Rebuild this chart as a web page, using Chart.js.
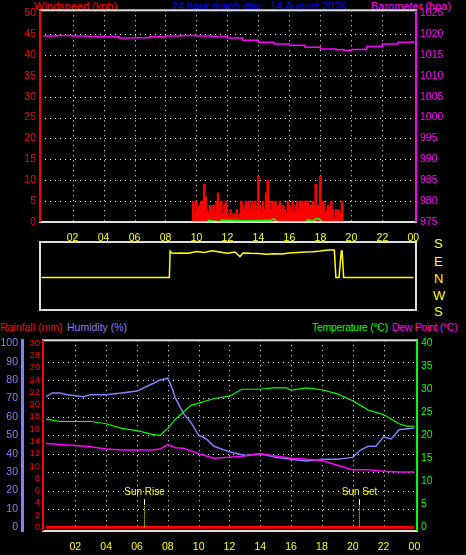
<!DOCTYPE html>
<html><head><meta charset="utf-8">
<script src="https://cdn.jsdelivr.net/npm/chart.js@4"></script>
<style>
body{margin:0;background:#000;width:466px;height:555px;overflow:hidden;position:relative;font-family:"Liberation Sans",Arial,sans-serif;font-size:11px}
canvas{position:absolute;left:0}
.t{position:absolute;white-space:nowrap;line-height:12px}
</style></head><body>
<div class="t" style="left:34px;top:0;color:#ff0000">Windspeed (kph)</div>
<div class="t" style="left:172px;top:0;color:#0000ff">24 hour graph day : 14 August 2026</div>
<div class="t" style="left:371px;top:0;color:#ff00ff">Barometer (hpa)</div>
<div class="t" style="left:0;top:321px;color:#ff0000;font-size:10.5px">Rainfall (mm)</div>
<div class="t" style="left:67px;top:321px;color:#8080ff;font-size:10.5px">Humidity (%)</div>
<div class="t" style="left:312px;top:321px;color:#00ff00;font-size:10.5px;letter-spacing:-0.3px">Temperature (°C)</div>
<div class="t" style="left:392px;top:321px;color:#ff00ff;font-size:10.5px;letter-spacing:-0.3px">Dew Point (°C)</div>
<div class="t" style="left:434px;top:238px;color:#ffff00;font-size:13px">S</div>
<div class="t" style="left:434px;top:256px;color:#ffff00;font-size:13px">E</div>
<div class="t" style="left:434px;top:273px;color:#ffff00;font-size:13px">N</div>
<div class="t" style="left:433px;top:290px;color:#ffff00;font-size:13px">W</div>
<div class="t" style="left:434px;top:306px;color:#ffff00;font-size:13px">S</div>
<canvas id="c1" style="top:0" width="466" height="241"></canvas>
<canvas id="c2" style="top:241px" width="466" height="70"></canvas>
<canvas id="c3" style="top:330px" width="466" height="225"></canvas>
<script>
const hourTicks=[2,4,6,8,10,12,14,16,18,20,22,24];
const hourLabels=['02','04','06','08','10','12','14','16','18','20','22','00'];
const baroT=[0.1,1,2,3,4,5,6,7,8,9,10,11,12,13,14,15,16,17,18,19,19.5,20,21,22,23,24];
const baroV=[1019.5,1019.6,1019.5,1019.4,1019.3,1019.0,1019.1,1019.3,1019.5,1019.6,1019.5,1019.4,1019.0,1018.5,1018.0,1017.6,1017.3,1016.8,1016.4,1016.2,1016.1,1016.3,1017.0,1017.6,1018.0,1018.3];
const windStart=9.8;
const windV=[5,2,5,3,4,5,5,9,6,3,2,4,3,4,2,5,7,3,5,2,4,5,2,1,3,1,2,1,3,1,2,5,4,3,5,4,5,3,5,4,5,3,11,4,2,5,3,7,10,5,3,5,4,5,3,4,5,2,4,3,2,5,4,3,5,2,4,5,3,5,5,4,5,5,5,3,4,5,4,9,3,4,11,3,5,2,3,4,2,5,3,1,3,2,3,2,5];
const gustT=[0,10.7,10.8,11.5,11.6,13.2,13.4,14.8,15.0,15.2,17.0,17.2,17.5,17.7,17.9,18.1,18.2,24];
const gustV=[0,0,0.4,0,0.4,0.3,0.3,0.4,0.8,0,0,0.6,0.2,0.8,0.8,0,0,0];
const dirT=[0,8.25,8.3,8.4,8.6,9,9.5,10,10.5,11,11.5,12,12.5,12.8,13,13.5,14,14.5,15,15.5,16,16.5,17,17.5,18,18.5,18.9,19.0,19.2,19.35,19.4,19.5,19.55,24];
const dirV=[10,10,150,140,138,140,138,148,142,152,145,138,145,120,140,138,137,133,136,135,140,143,145,147,150,155,155,10,10,150,150,10,10,10];
const humT=[0.1,0.5,1,1.5,2.5,3,4,5,6,7,7.5,8,8.3,8.5,9,9.5,10,10.5,11,12,13,14,15,16,17,18,19,20,20.5,21,21.5,22,22.5,23,24];
const humV=[71,73,73,72,71,72,72,73,74,78,80,81,75,70,62,57,50,48,44,41,39,40,38,37,36,37,37,38,42,44,44,49,48,53,54];
const tempT=[0.1,1,2,3,4,5,6,7,7.5,8,8.5,9,9.5,10,11,12,12.8,14,14.8,15.7,16,17,18,19,20,20.5,21,22,23,23.5,24];
const tempV=[23.5,23,23,23,22.5,21.5,21,20.2,20,21.5,23.5,25,26.5,27,28,28.5,30,30,30.3,30.3,29.8,30.3,29.9,29,27.5,26.5,25.5,24.5,22.5,22,22];
const dewT=[0.1,1,2,3,4,5,6,7,7.5,8,8.5,9,10,11,12,13,14,15,16,17,18,19,20,21,22,23,24];
const dewV=[18.2,18,17.8,17.5,17,16.8,16.8,16.8,17,18,17.3,17.2,16,15,15.2,15.5,16,15.5,15,14.8,14.5,13.5,12.5,12.5,12.2,12,12];
const rainT=[0.1,24];
const rainV=[0,0];
const sunRise=6.45, sunSet=20.4;

const F={family:'"Liberation Sans",Arial,sans-serif',size:10.5};
const pts=(t,v)=>t.map((x,i)=>({x:x,y:v[i]}));
const fixTicks=(arr)=>(ax)=>{ax.ticks=arr.map(v=>({value:v}));};
const range=(a,b,s)=>{const r=[];for(let v=a;v<=b+1e-9;v+=s)r.push(v);return r;};
const dotGrid={id:'dotGrid',beforeDatasetsDraw(c,a,o){
  const ctx=c.ctx,ca=c.chartArea,x=c.scales.x,y=c.scales[o.yid];
  ctx.save();ctx.strokeStyle='#fff';ctx.lineWidth=1;ctx.setLineDash([1,4]);
  o.h.forEach(v=>{const py=Math.round(y.getPixelForValue(v))+0.5;ctx.beginPath();ctx.moveTo(ca.left,py);ctx.lineTo(ca.right,py);ctx.stroke();});
  o.v.forEach(v=>{const px=Math.round(x.getPixelForValue(v))+0.5;ctx.beginPath();ctx.moveTo(px,ca.top);ctx.lineTo(px,ca.bottom);ctx.stroke();});
  ctx.restore();}};
const frame={id:'frame',afterDatasetsDraw(c,a,o){
  const ctx=c.ctx,ca=c.chartArea;ctx.save();ctx.strokeStyle='#ddd';ctx.lineWidth=2;
  ctx.strokeRect(ca.left,ca.top,ca.right-ca.left,ca.bottom-ca.top);
  if(o.l){ctx.strokeStyle=o.l;ctx.beginPath();ctx.moveTo(ca.left,ca.top);ctx.lineTo(ca.left,ca.bottom);ctx.stroke();}
  if(o.r){ctx.strokeStyle=o.r;ctx.beginPath();ctx.moveTo(ca.right,ca.top);ctx.lineTo(ca.right,ca.bottom);ctx.stroke();}
  ctx.restore();}};
const xAxis=(show)=>({type:'linear',min:-0.1,max:24.17,display:show,position:'bottom',offset:false,
  afterBuildTicks:fixTicks(hourTicks),grid:{display:false,offset:false},border:{display:false},
  ticks:{color:'#ffff00',font:F,padding:2,maxRotation:0,autoSkip:false,callback:(v)=>hourLabels[hourTicks.indexOf(v)]},
  afterFit:(ax)=>{ax.height=19;}});
const yAx=(pos,min,max,ticks,col,w,extra)=>Object.assign({type:'linear',position:pos,min:min,max:max,
  afterBuildTicks:fixTicks(ticks),grid:{display:false,drawTicks:false},border:{display:true,color:col,width:2},
  ticks:{color:col,font:F,padding:4,autoSkip:false,callback:(v)=>String(v)},afterFit:(ax)=>{ax.width=w;}},extra||{});
const base={responsive:false,animation:false,events:[],plugins:{legend:{display:false},tooltip:{enabled:false}},
  elements:{point:{radius:0}}};

new Chart(document.getElementById('c1'),{type:'line',
 data:{datasets:[
  {type:'line',data:pts(baroT,baroV),yAxisID:'yb',borderColor:'#ff00ff',borderWidth:1.5,stepped:true},
  {type:'line',data:pts(gustT,gustV),yAxisID:'yw',borderColor:'#00ff00',borderWidth:1.5},
  {type:'line',data:[{x:0.1,y:0},{x:24,y:0}],yAxisID:'yw',borderColor:'#ff0000',borderWidth:1.5},
  {type:'bar',data:windV.map((v,i)=>({x:windStart+i*0.1,y:v})),yAxisID:'yw',backgroundColor:'#ff0000',barThickness:2}
 ]},
 options:Object.assign({},base,{layout:{padding:{top:10}},
  scales:{x:xAxis(true),
   yw:yAx('left',0,50.65,range(0,50,5),'#ff0000',40),
   yb:yAx('right',975,1025.65,range(975,1025,5),'#ff00ff',50)},
  plugins:Object.assign({},base.plugins,{dotGrid:{yid:'yw',h:range(5,45,5),v:range(2,22,2)},frame:{l:'#ff0000',r:'#ff00ff'}})}),
 plugins:[dotGrid,frame]});

new Chart(document.getElementById('c2'),{type:'line',
 data:{datasets:[{data:pts(dirT,dirV),borderColor:'#ffff00',borderWidth:1.5}]},
 options:Object.assign({},base,{layout:{padding:{top:1,bottom:1}},
  scales:{x:{type:'linear',min:-0.1,max:24.17,display:false},
   y:{type:'linear',min:-162,max:198,display:true,position:'left',grid:{display:false},border:{display:false},ticks:{display:false},afterFit:(ax)=>{ax.width=40;}},
   y2:{type:'linear',position:'right',display:true,grid:{display:false},border:{display:false},ticks:{display:false},afterFit:(ax)=>{ax.width=50;}}},
  plugins:Object.assign({},base.plugins,{frame:{}})}),
 plugins:[frame]});

const sun={id:'sun',afterDatasetsDraw(c){
  const ctx=c.ctx,x=c.scales.x,y=c.scales.yh;ctx.save();
  ctx.font='10px "Liberation Sans",Arial,sans-serif';ctx.textAlign='center';
  [[sunRise,'Sun Rise'],[sunSet,'Sun Set']].forEach(([t,l])=>{
    const px=Math.round(x.getPixelForValue(t))+0.5,y0=y.getPixelForValue(0),y1=y.getPixelForValue(12);
    ctx.strokeStyle='#ffff00';ctx.setLineDash([1,1]);ctx.beginPath();ctx.moveTo(px,y0);ctx.lineTo(px,y1);ctx.stroke();
    ctx.setLineDash([]);ctx.strokeStyle='#fff';ctx.beginPath();ctx.moveTo(px,y1);ctx.lineTo(px,y1-6);ctx.stroke();
    ctx.fillStyle='#ffff00';ctx.fillText(l,px,y1-10);});
  ctx.restore();}};

new Chart(document.getElementById('c3'),{type:'line',
 data:{datasets:[
  {data:pts(rainT,rainV),yAxisID:'yr',borderColor:'#ff0000',borderWidth:3},
  {data:pts(dewT,dewV),yAxisID:'yt',borderColor:'#ff00ff',borderWidth:1.5},
  {data:pts(tempT,tempV),yAxisID:'yt',borderColor:'#00ff00',borderWidth:1.2},
  {data:pts(humT,humV),yAxisID:'yh',borderColor:'#8080ff',borderWidth:1.5}
 ]},
 options:Object.assign({},base,{layout:{padding:{top:9}},
  scales:{x:Object.assign(xAxis(true),{afterFit:(ax)=>{ax.height=24;}}),
   yr:yAx('left',-0.6,30.48,range(0,30,2),'#ff0000',21,{ticks:{color:'#ff0000',font:{family:F.family,size:9.5},padding:3,autoSkip:false,callback:(v)=>String(v)}}),
   yh:yAx('left',-2,101.6,range(0,100,10),'#8080ff',22,{border:{display:true,color:'#8080ff',width:3}}),
   yt:yAx('right',-0.8,40.64,range(0,40,5),'#00ff00',49)},
  plugins:Object.assign({},base.plugins,{dotGrid:{yid:'yh',h:range(10,90,10),v:range(2,22,2)},frame:{l:'#ff0000',r:'#00ff00'}})}),
 plugins:[dotGrid,frame,sun]});
</script></body></html>
